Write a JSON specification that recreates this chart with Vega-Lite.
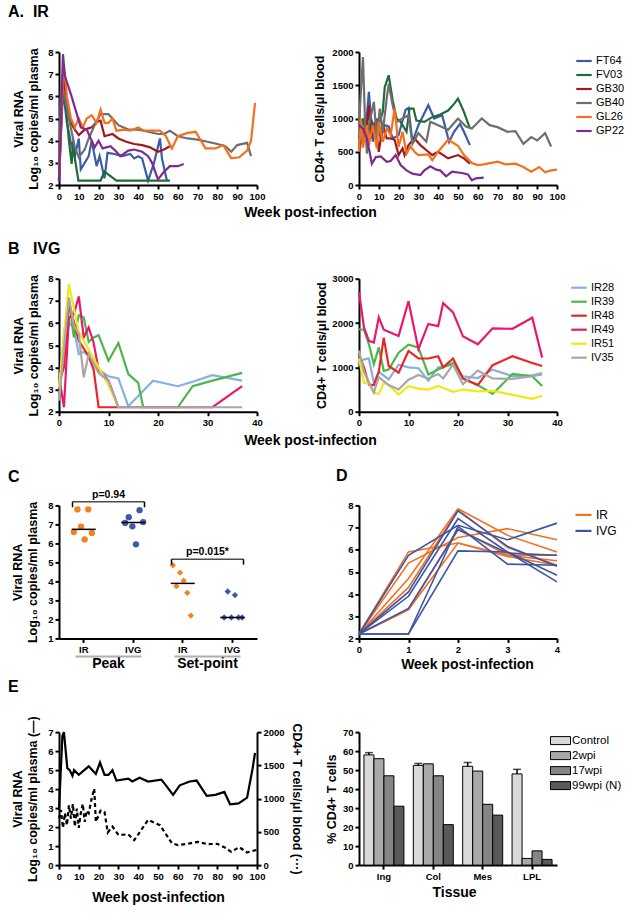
{
"$schema": "https://vega.github.io/schema/vega-lite/v6.json",
"autosize": {"type": "pad"},
"padding": {"left": 8, "top": 4, "right": 0, "bottom": 0},
"background": "white",
"config": {
  "font": "Liberation Sans",
  "view": {"stroke": null},
  "axis": {"grid": false, "domainColor": "#000", "domainWidth": 2, "tickColor": "#000", "tickWidth": 2, "tickSize": 4, "labelColor": "#000", "labelFontSize": 9.5, "labelFontWeight": "bold", "labelFont": "Liberation Sans", "labelPadding": 2, "labelOverlap": false, "labelFlush": false, "titleColor": "#000", "titleFont": "Liberation Sans", "titleFontWeight": "bold", "titleFontSize": 12.5, "titleLineHeight": 15},
  "legend": {"labelFont": "Liberation Sans", "labelFontSize": 11, "labelColor": "#000", "padding": 0, "rowPadding": 0, "labelOffset": 3},
  "title": {"font": "Liberation Sans", "fontSize": 16, "fontWeight": "bold", "color": "#000", "anchor": "start", "frame": "group", "baseline": "alphabetic"},
  "line": {"strokeWidth": 2.2}
},
"datasets": {
  "A_vl": [
    {"a":"FT64","w":0,"v":2.2},{"a":"FT64","w":2,"v":6.3},{"a":"FT64","w":4,"v":4.8},{"a":"FT64","w":6,"v":3.9},{"a":"FT64","w":8,"v":3.3},{"a":"FT64","w":10,"v":4.1},{"a":"FT64","w":11,"v":2.7},{"a":"FT64","w":15,"v":3.3},{"a":"FT64","w":16.5,"v":4.0},{"a":"FT64","w":19,"v":2.85},{"a":"FT64","w":20.5,"v":3.3},{"a":"FT64","w":21.5,"v":2.9},{"a":"FT64","w":23,"v":2.3},{"a":"FT64","w":24.5,"v":3.45},{"a":"FT64","w":28,"v":3.4},{"a":"FT64","w":32,"v":3.3},{"a":"FT64","w":36,"v":3.4},{"a":"FT64","w":38,"v":3.2},{"a":"FT64","w":40,"v":3.3},{"a":"FT64","w":42,"v":3.2},{"a":"FT64","w":45,"v":2.2},{"a":"FT64","w":48,"v":3.0},{"a":"FT64","w":51,"v":4.1},{"a":"FT64","w":52,"v":3.2},{"a":"FT64","w":54.5,"v":2.2},
    {"a":"FV03","w":0,"v":2.2},{"a":"FV03","w":1,"v":6.0},{"a":"FV03","w":2,"v":7.0},{"a":"FV03","w":4,"v":5.0},{"a":"FV03","w":5,"v":4.0},{"a":"FV03","w":6.4,"v":2.95},{"a":"FV03","w":7.2,"v":4.0},{"a":"FV03","w":8,"v":3.2},{"a":"FV03","w":9.8,"v":2.2},{"a":"FV03","w":21,"v":2.2},{"a":"FV03","w":23,"v":2.6},{"a":"FV03","w":26,"v":2.4},{"a":"FV03","w":29,"v":2.2},{"a":"FV03","w":56,"v":2.2},
    {"a":"GB30","w":0,"v":2.2},{"a":"GB30","w":2,"v":6.8},{"a":"GB30","w":4,"v":5.6},{"a":"GB30","w":6,"v":4.8},{"a":"GB30","w":8,"v":4.5},{"a":"GB30","w":10,"v":4.25},{"a":"GB30","w":13,"v":4.5},{"a":"GB30","w":16.5,"v":4.6},{"a":"GB30","w":19,"v":4.85},{"a":"GB30","w":21,"v":4.9},{"a":"GB30","w":23,"v":4.2},{"a":"GB30","w":27,"v":4.3},{"a":"GB30","w":30,"v":4.1},{"a":"GB30","w":34,"v":3.95},{"a":"GB30","w":38,"v":3.85},{"a":"GB30","w":42,"v":3.8},{"a":"GB30","w":46,"v":3.7},{"a":"GB30","w":50,"v":3.5},{"a":"GB30","w":53,"v":3.6},{"a":"GB30","w":56,"v":3.75},
    {"a":"GB40","w":0,"v":2.2},{"a":"GB40","w":1,"v":6.6},{"a":"GB40","w":3,"v":6.0},{"a":"GB40","w":5,"v":5.0},{"a":"GB40","w":8,"v":3.7},{"a":"GB40","w":10,"v":3.25},{"a":"GB40","w":13,"v":3.6},{"a":"GB40","w":15,"v":4.1},{"a":"GB40","w":18,"v":4.7},{"a":"GB40","w":21,"v":5.2},{"a":"GB40","w":25,"v":5.2},{"a":"GB40","w":28,"v":4.9},{"a":"GB40","w":30,"v":4.7},{"a":"GB40","w":35,"v":4.5},{"a":"GB40","w":40,"v":4.5},{"a":"GB40","w":45,"v":4.4},{"a":"GB40","w":50,"v":4.3},{"a":"GB40","w":53,"v":4.3},{"a":"GB40","w":56,"v":4.45},{"a":"GB40","w":60,"v":4.2},{"a":"GB40","w":65,"v":4.1},{"a":"GB40","w":70,"v":4.05},{"a":"GB40","w":75,"v":3.95},{"a":"GB40","w":80,"v":3.85},{"a":"GB40","w":84,"v":3.75},{"a":"GB40","w":87,"v":3.5},{"a":"GB40","w":90,"v":3.8},{"a":"GB40","w":95,"v":3.9},{"a":"GB40","w":97,"v":3.3},
    {"a":"GL26","w":0,"v":2.5},{"a":"GL26","w":1,"v":4.6},{"a":"GL26","w":2,"v":6.9},{"a":"GL26","w":3,"v":7.0},{"a":"GL26","w":4,"v":6.0},{"a":"GL26","w":6,"v":5.0},{"a":"GL26","w":8,"v":4.6},{"a":"GL26","w":10,"v":5.0},{"a":"GL26","w":12,"v":4.6},{"a":"GL26","w":14,"v":5.0},{"a":"GL26","w":16.5,"v":5.15},{"a":"GL26","w":19,"v":4.8},{"a":"GL26","w":21,"v":5.4},{"a":"GL26","w":23,"v":4.8},{"a":"GL26","w":25,"v":4.8},{"a":"GL26","w":27,"v":5.0},{"a":"GL26","w":29,"v":4.45},{"a":"GL26","w":33,"v":4.5},{"a":"GL26","w":36,"v":4.45},{"a":"GL26","w":40,"v":4.6},{"a":"GL26","w":43,"v":4.45},{"a":"GL26","w":47,"v":4.45},{"a":"GL26","w":51,"v":4.45},{"a":"GL26","w":54,"v":4.2},{"a":"GL26","w":57,"v":3.65},{"a":"GL26","w":60,"v":4.2},{"a":"GL26","w":65,"v":4.35},{"a":"GL26","w":69,"v":4.4},{"a":"GL26","w":74,"v":3.65},{"a":"GL26","w":79,"v":3.65},{"a":"GL26","w":83,"v":3.8},{"a":"GL26","w":87,"v":3.2},{"a":"GL26","w":91,"v":3.25},{"a":"GL26","w":95,"v":3.55},{"a":"GL26","w":97,"v":4.0},{"a":"GL26","w":99,"v":5.7},
    {"a":"GP22","w":0,"v":2.2},{"a":"GP22","w":1,"v":5.0},{"a":"GP22","w":2,"v":7.9},{"a":"GP22","w":3,"v":6.9},{"a":"GP22","w":6,"v":6.1},{"a":"GP22","w":9,"v":5.2},{"a":"GP22","w":11,"v":4.6},{"a":"GP22","w":14,"v":4.5},{"a":"GP22","w":16,"v":4.1},{"a":"GP22","w":18,"v":3.7},{"a":"GP22","w":20,"v":4.0},{"a":"GP22","w":22,"v":3.65},{"a":"GP22","w":26,"v":3.75},{"a":"GP22","w":29,"v":3.5},{"a":"GP22","w":31,"v":3.3},{"a":"GP22","w":35,"v":3.55},{"a":"GP22","w":38,"v":3.6},{"a":"GP22","w":42,"v":3.5},{"a":"GP22","w":45,"v":3.3},{"a":"GP22","w":47,"v":3.0},{"a":"GP22","w":50,"v":2.25},{"a":"GP22","w":53,"v":2.6},{"a":"GP22","w":56,"v":2.85},{"a":"GP22","w":60,"v":2.85},{"a":"GP22","w":63,"v":2.95}
  ],
  "A_cd4": [
    {"a":"FT64","w":0,"v":800},{"a":"FT64","w":3,"v":700},{"a":"FT64","w":5,"v":1400},{"a":"FT64","w":7,"v":650},{"a":"FT64","w":9,"v":1000},{"a":"FT64","w":11,"v":700},{"a":"FT64","w":13,"v":900},{"a":"FT64","w":15,"v":880},{"a":"FT64","w":17,"v":700},{"a":"FT64","w":20,"v":750},{"a":"FT64","w":23.5,"v":1130},{"a":"FT64","w":25,"v":1160},{"a":"FT64","w":27,"v":650},{"a":"FT64","w":30,"v":900},{"a":"FT64","w":35,"v":1200},{"a":"FT64","w":38,"v":1000},{"a":"FT64","w":42,"v":1050},{"a":"FT64","w":45.5,"v":650},{"a":"FT64","w":48,"v":800},{"a":"FT64","w":51,"v":920},{"a":"FT64","w":53,"v":800},{"a":"FT64","w":56,"v":600},
    {"a":"FV03","w":0,"v":700},{"a":"FV03","w":2,"v":1000},{"a":"FV03","w":4,"v":700},{"a":"FV03","w":6,"v":1000},{"a":"FV03","w":8,"v":800},{"a":"FV03","w":10,"v":900},{"a":"FV03","w":12,"v":1100},{"a":"FV03","w":13,"v":1470},{"a":"FV03","w":15,"v":1650},{"a":"FV03","w":17,"v":1270},{"a":"FV03","w":19,"v":1000},{"a":"FV03","w":21,"v":950},{"a":"FV03","w":24,"v":800},{"a":"FV03","w":25.5,"v":1150},{"a":"FV03","w":27.5,"v":1150},{"a":"FV03","w":29,"v":970},{"a":"FV03","w":33,"v":950},{"a":"FV03","w":37,"v":1020},{"a":"FV03","w":41,"v":1060},{"a":"FV03","w":45,"v":1120},{"a":"FV03","w":48,"v":1220},{"a":"FV03","w":50,"v":1300},{"a":"FV03","w":53,"v":1100},{"a":"FV03","w":56,"v":850},
    {"a":"GB30","w":0,"v":500},{"a":"GB30","w":2,"v":800},{"a":"GB30","w":4,"v":900},{"a":"GB30","w":5,"v":1200},{"a":"GB30","w":6,"v":700},{"a":"GB30","w":8,"v":950},{"a":"GB30","w":10,"v":500},{"a":"GB30","w":12,"v":900},{"a":"GB30","w":14,"v":700},{"a":"GB30","w":16,"v":700},{"a":"GB30","w":18,"v":680},{"a":"GB30","w":20,"v":450},{"a":"GB30","w":22,"v":550},{"a":"GB30","w":23,"v":450},{"a":"GB30","w":25,"v":600},{"a":"GB30","w":28,"v":700},{"a":"GB30","w":31,"v":600},{"a":"GB30","w":35,"v":500},{"a":"GB30","w":37,"v":450},{"a":"GB30","w":40,"v":500},{"a":"GB30","w":45,"v":400},{"a":"GB30","w":50,"v":450},{"a":"GB30","w":53,"v":400},{"a":"GB30","w":56,"v":320},
    {"a":"GB40","w":0,"v":920},{"a":"GB40","w":2,"v":1925},{"a":"GB40","w":3,"v":1000},{"a":"GB40","w":4,"v":470},{"a":"GB40","w":5,"v":900},{"a":"GB40","w":7.5,"v":1250},{"a":"GB40","w":9,"v":700},{"a":"GB40","w":10.5,"v":1150},{"a":"GB40","w":12,"v":800},{"a":"GB40","w":14,"v":1300},{"a":"GB40","w":15,"v":1520},{"a":"GB40","w":17,"v":1200},{"a":"GB40","w":19,"v":950},{"a":"GB40","w":22,"v":1000},{"a":"GB40","w":25,"v":1050},{"a":"GB40","w":27,"v":620},{"a":"GB40","w":30,"v":780},{"a":"GB40","w":34,"v":650},{"a":"GB40","w":36,"v":950},{"a":"GB40","w":40,"v":900},{"a":"GB40","w":45,"v":830},{"a":"GB40","w":50,"v":1000},{"a":"GB40","w":54,"v":880},{"a":"GB40","w":57,"v":850},{"a":"GB40","w":62,"v":1000},{"a":"GB40","w":66,"v":900},{"a":"GB40","w":70,"v":870},{"a":"GB40","w":75,"v":800},{"a":"GB40","w":79,"v":810},{"a":"GB40","w":83,"v":620},{"a":"GB40","w":87,"v":720},{"a":"GB40","w":90,"v":670},{"a":"GB40","w":94,"v":780},{"a":"GB40","w":97,"v":580},
    {"a":"GL26","w":0,"v":500},{"a":"GL26","w":1,"v":1000},{"a":"GL26","w":2,"v":560},{"a":"GL26","w":4,"v":900},{"a":"GL26","w":5,"v":600},{"a":"GL26","w":7,"v":900},{"a":"GL26","w":9,"v":550},{"a":"GL26","w":10,"v":950},{"a":"GL26","w":12,"v":650},{"a":"GL26","w":14,"v":850},{"a":"GL26","w":16,"v":750},{"a":"GL26","w":18,"v":1150},{"a":"GL26","w":20,"v":570},{"a":"GL26","w":22,"v":800},{"a":"GL26","w":24,"v":470},{"a":"GL26","w":26,"v":580},{"a":"GL26","w":28,"v":500},{"a":"GL26","w":30,"v":450},{"a":"GL26","w":35,"v":460},{"a":"GL26","w":37,"v":370},{"a":"GL26","w":40,"v":500},{"a":"GL26","w":45,"v":680},{"a":"GL26","w":50,"v":590},{"a":"GL26","w":53,"v":450},{"a":"GL26","w":57,"v":330},{"a":"GL26","w":60,"v":300},{"a":"GL26","w":63,"v":310},{"a":"GL26","w":70,"v":350},{"a":"GL26","w":74,"v":310},{"a":"GL26","w":79,"v":320},{"a":"GL26","w":83,"v":270},{"a":"GL26","w":87,"v":200},{"a":"GL26","w":91,"v":270},{"a":"GL26","w":94,"v":190},{"a":"GL26","w":97,"v":220},{"a":"GL26","w":100,"v":230},
    {"a":"GP22","w":0,"v":900},{"a":"GP22","w":2,"v":850},{"a":"GP22","w":4,"v":700},{"a":"GP22","w":6.5,"v":320},{"a":"GP22","w":8.5,"v":420},{"a":"GP22","w":11,"v":430},{"a":"GP22","w":14,"v":350},{"a":"GP22","w":16,"v":360},{"a":"GP22","w":18.5,"v":450},{"a":"GP22","w":21,"v":300},{"a":"GP22","w":24,"v":220},{"a":"GP22","w":27,"v":170},{"a":"GP22","w":31,"v":150},{"a":"GP22","w":33,"v":220},{"a":"GP22","w":36,"v":280},{"a":"GP22","w":39,"v":230},{"a":"GP22","w":41,"v":220},{"a":"GP22","w":44,"v":130},{"a":"GP22","w":47,"v":200},{"a":"GP22","w":52,"v":180},{"a":"GP22","w":55,"v":160},{"a":"GP22","w":57,"v":70},{"a":"GP22","w":59,"v":100},{"a":"GP22","w":63,"v":110}
  ],
  "B_vl": [
    {"a":"IR28","w":0,"v":3.3},{"a":"IR28","w":1,"v":4.5},{"a":"IR28","w":2,"v":6.0},{"a":"IR28","w":3,"v":5.8},{"a":"IR28","w":4,"v":4.6},{"a":"IR28","w":5,"v":4.7},{"a":"IR28","w":6,"v":4.5},{"a":"IR28","w":8,"v":3.9},{"a":"IR28","w":10,"v":3.6},{"a":"IR28","w":12,"v":3.5},{"a":"IR28","w":14,"v":2.25},{"a":"IR28","w":19,"v":3.4},{"a":"IR28","w":24,"v":3.15},{"a":"IR28","w":27,"v":3.35},{"a":"IR28","w":31,"v":3.65},{"a":"IR28","w":37,"v":3.4},
    {"a":"IR39","w":0,"v":2.6},{"a":"IR39","w":1,"v":5.5},{"a":"IR39","w":2,"v":7.0},{"a":"IR39","w":3,"v":5.35},{"a":"IR39","w":4,"v":6.35},{"a":"IR39","w":5,"v":6.25},{"a":"IR39","w":6,"v":5.15},{"a":"IR39","w":7,"v":5.35},{"a":"IR39","w":8,"v":5.45},{"a":"IR39","w":10,"v":4.3},{"a":"IR39","w":12,"v":5.1},{"a":"IR39","w":14,"v":3.7},{"a":"IR39","w":16,"v":3.3},{"a":"IR39","w":17,"v":2.2},{"a":"IR39","w":24,"v":2.2},{"a":"IR39","w":27,"v":3.15},{"a":"IR39","w":31,"v":3.4},{"a":"IR39","w":37,"v":3.75},
    {"a":"IR48","w":0,"v":3.3},{"a":"IR48","w":1,"v":4.0},{"a":"IR48","w":2,"v":6.9},{"a":"IR48","w":4,"v":5.2},{"a":"IR48","w":6,"v":4.5},{"a":"IR48","w":7,"v":3.9},{"a":"IR48","w":8,"v":2.2},{"a":"IR48","w":12,"v":2.2},
    {"a":"IR49","w":0,"v":3.6},{"a":"IR49","w":1,"v":2.2},{"a":"IR49","w":2,"v":6.25},{"a":"IR49","w":3,"v":6.4},{"a":"IR49","w":4,"v":7.2},{"a":"IR49","w":5,"v":5.35},{"a":"IR49","w":6,"v":5.8},{"a":"IR49","w":7,"v":5.1},{"a":"IR49","w":8,"v":3.9},{"a":"IR49","w":10,"v":3.4},{"a":"IR49","w":12,"v":2.2},{"a":"IR49","w":31,"v":2.2},{"a":"IR49","w":37,"v":3.15},
    {"a":"IR51","w":0,"v":3.1},{"a":"IR51","w":2,"v":7.75},{"a":"IR51","w":4,"v":5.6},{"a":"IR51","w":6,"v":4.8},{"a":"IR51","w":8,"v":4.0},{"a":"IR51","w":10,"v":3.2},{"a":"IR51","w":12,"v":2.2},
    {"a":"IV35","w":0,"v":2.5},{"a":"IV35","w":2,"v":7.15},{"a":"IV35","w":3,"v":5.9},{"a":"IV35","w":4,"v":5.5},{"a":"IV35","w":5,"v":3.55},{"a":"IV35","w":6,"v":4.6},{"a":"IV35","w":8,"v":3.75},{"a":"IV35","w":10,"v":3.4},{"a":"IV35","w":12,"v":2.2},{"a":"IV35","w":37,"v":2.2}
  ],
  "B_cd4": [
    {"a":"IR28","w":0,"v":1100},{"a":"IR28","w":1,"v":1180},{"a":"IR28","w":2,"v":1200},{"a":"IR28","w":3,"v":650},{"a":"IR28","w":4,"v":900},{"a":"IR28","w":6,"v":730},{"a":"IR28","w":8,"v":1060},{"a":"IR28","w":10,"v":1000},{"a":"IR28","w":12,"v":980},{"a":"IR28","w":14,"v":700},{"a":"IR28","w":16,"v":1000},{"a":"IR28","w":19,"v":1060},{"a":"IR28","w":21,"v":800},{"a":"IR28","w":24,"v":760},{"a":"IR28","w":27,"v":950},{"a":"IR28","w":31,"v":800},{"a":"IR28","w":35,"v":820},{"a":"IR28","w":37,"v":870},
    {"a":"IR39","w":0,"v":1860},{"a":"IR39","w":1,"v":1850},{"a":"IR39","w":2,"v":1520},{"a":"IR39","w":3,"v":1070},{"a":"IR39","w":4,"v":1450},{"a":"IR39","w":5,"v":920},{"a":"IR39","w":6,"v":950},{"a":"IR39","w":8,"v":1330},{"a":"IR39","w":10,"v":1510},{"a":"IR39","w":12,"v":1450},{"a":"IR39","w":14,"v":840},{"a":"IR39","w":16,"v":950},{"a":"IR39","w":19,"v":1100},{"a":"IR39","w":21,"v":750},{"a":"IR39","w":24,"v":600},{"a":"IR39","w":27,"v":400},{"a":"IR39","w":31,"v":850},{"a":"IR39","w":35,"v":800},{"a":"IR39","w":37,"v":580},
    {"a":"IR48","w":0,"v":1300},{"a":"IR48","w":1,"v":1000},{"a":"IR48","w":2,"v":610},{"a":"IR48","w":3,"v":600},{"a":"IR48","w":4,"v":900},{"a":"IR48","w":5,"v":1670},{"a":"IR48","w":6,"v":1030},{"a":"IR48","w":8,"v":880},{"a":"IR48","w":10,"v":1370},{"a":"IR48","w":12,"v":1200},{"a":"IR48","w":14,"v":1200},{"a":"IR48","w":16,"v":1250},{"a":"IR48","w":17,"v":1000},{"a":"IR48","w":19,"v":1200},{"a":"IR48","w":21,"v":750},{"a":"IR48","w":24,"v":600},{"a":"IR48","w":27,"v":1050},{"a":"IR48","w":31,"v":1250},{"a":"IR48","w":35,"v":1100},{"a":"IR48","w":37,"v":1030},
    {"a":"IR49","w":0,"v":2700},{"a":"IR49","w":1,"v":1900},{"a":"IR49","w":2,"v":1600},{"a":"IR49","w":3,"v":1560},{"a":"IR49","w":4,"v":2130},{"a":"IR49","w":5,"v":1850},{"a":"IR49","w":8,"v":1710},{"a":"IR49","w":10,"v":2490},{"a":"IR49","w":12,"v":1410},{"a":"IR49","w":14,"v":1980},{"a":"IR49","w":16,"v":1930},{"a":"IR49","w":17,"v":2450},{"a":"IR49","w":19,"v":2240},{"a":"IR49","w":21,"v":1700},{"a":"IR49","w":24,"v":1520},{"a":"IR49","w":27,"v":1880},{"a":"IR49","w":31,"v":1870},{"a":"IR49","w":35,"v":2120},{"a":"IR49","w":37,"v":1220},
    {"a":"IR51","w":0,"v":1200},{"a":"IR51","w":1,"v":650},{"a":"IR51","w":2,"v":650},{"a":"IR51","w":3,"v":430},{"a":"IR51","w":4,"v":400},{"a":"IR51","w":5,"v":650},{"a":"IR51","w":6,"v":600},{"a":"IR51","w":8,"v":385},{"a":"IR51","w":10,"v":575},{"a":"IR51","w":12,"v":520},{"a":"IR51","w":14,"v":500},{"a":"IR51","w":16,"v":580},{"a":"IR51","w":19,"v":450},{"a":"IR51","w":21,"v":500},{"a":"IR51","w":24,"v":460},{"a":"IR51","w":27,"v":470},{"a":"IR51","w":31,"v":380},{"a":"IR51","w":35,"v":290},{"a":"IR51","w":37,"v":360},
    {"a":"IV35","w":0,"v":1380},{"a":"IV35","w":1,"v":900},{"a":"IV35","w":3,"v":430},{"a":"IV35","w":4,"v":780},{"a":"IV35","w":6,"v":600},{"a":"IV35","w":8,"v":500},{"a":"IV35","w":10,"v":720},{"a":"IV35","w":12,"v":830},{"a":"IV35","w":14,"v":750},{"a":"IV35","w":16,"v":850},{"a":"IV35","w":17,"v":750},{"a":"IV35","w":19,"v":1060},{"a":"IV35","w":21,"v":620},{"a":"IV35","w":24,"v":930},{"a":"IV35","w":27,"v":750},{"a":"IV35","w":31,"v":740},{"a":"IV35","w":35,"v":800},{"a":"IV35","w":37,"v":840}
  ],
  "C_pts": [
    {"phase":"Peak","route":"IR","cat":"Peak IR","animal":"FT64","v":6.6},{"phase":"Peak","route":"IR","cat":"Peak IR","animal":"FV03","v":7.79},{"phase":"Peak","route":"IR","cat":"Peak IR","animal":"GB30","v":6.88},{"phase":"Peak","route":"IR","cat":"Peak IR","animal":"GB40","v":6.21},{"phase":"Peak","route":"IR","cat":"Peak IR","animal":"GL26","v":7.79},{"phase":"Peak","route":"IR","cat":"Peak IR","animal":"GP22","v":6.55},
    {"phase":"Peak","route":"IVG","cat":"Peak IVG","animal":"IR28","v":7.08},{"phase":"Peak","route":"IVG","cat":"Peak IVG","animal":"IR39","v":7.38},{"phase":"Peak","route":"IVG","cat":"Peak IVG","animal":"IR48","v":6.9},{"phase":"Peak","route":"IVG","cat":"Peak IVG","animal":"IR49","v":5.95},{"phase":"Peak","route":"IVG","cat":"Peak IVG","animal":"IR51","v":7.75},{"phase":"Peak","route":"IVG","cat":"Peak IVG","animal":"IV35","v":7.12},
    {"phase":"Set-point","route":"IR","cat":"Set IR","animal":"FT64","v":4.85},{"phase":"Set-point","route":"IR","cat":"Set IR","animal":"FV03","v":3.75},{"phase":"Set-point","route":"IR","cat":"Set IR","animal":"GB30","v":4.46},{"phase":"Set-point","route":"IR","cat":"Set IR","animal":"GB40","v":4.04},{"phase":"Set-point","route":"IR","cat":"Set IR","animal":"GL26","v":3.4},{"phase":"Set-point","route":"IR","cat":"Set IR","animal":"GP22","v":2.2},
    {"phase":"Set-point","route":"IVG","cat":"Set IVG","animal":"IR28","v":2.1},{"phase":"Set-point","route":"IVG","cat":"Set IVG","animal":"IR39","v":3.47},{"phase":"Set-point","route":"IVG","cat":"Set IVG","animal":"IR48","v":2.1},{"phase":"Set-point","route":"IVG","cat":"Set IVG","animal":"IR49","v":3.28},{"phase":"Set-point","route":"IVG","cat":"Set IVG","animal":"IR51","v":2.1},{"phase":"Set-point","route":"IVG","cat":"Set IVG","animal":"IV35","v":2.1}
  ],
  "C_ann": [
    {"phase":"Peak","label":"p=0.94","top":8.19,"foot":7.9,"ty":8.54,"under":0.05},
    {"phase":"Set-point","label":"p=0.015*","top":5.17,"foot":4.88,"ty":5.56,"under":0.05}
  ],
  "D": [
    {"id":"FT64","route":"IR","w":0,"v":2.2},{"id":"FT64","route":"IR","w":1,"v":5.9},{"id":"FT64","route":"IR","w":2,"v":6.3},{"id":"FT64","route":"IR","w":3,"v":5.75},{"id":"FT64","route":"IR","w":4,"v":5.5},
    {"id":"FV03","route":"IR","w":0,"v":2.2},{"id":"FV03","route":"IR","w":1,"v":5.4},{"id":"FV03","route":"IR","w":2,"v":6.55},{"id":"FV03","route":"IR","w":3,"v":6.95},{"id":"FV03","route":"IR","w":4,"v":6.45},
    {"id":"GB30","route":"IR","w":0,"v":2.2},{"id":"GB30","route":"IR","w":1,"v":4.7},{"id":"GB30","route":"IR","w":2,"v":7.85},{"id":"GB30","route":"IR","w":3,"v":6.65},{"id":"GB30","route":"IR","w":4,"v":5.9},
    {"id":"GB40","route":"IR","w":0,"v":2.2},{"id":"GB40","route":"IR","w":1,"v":4.3},{"id":"GB40","route":"IR","w":2,"v":7.8},{"id":"GB40","route":"IR","w":3,"v":6.1},{"id":"GB40","route":"IR","w":4,"v":5.3},
    {"id":"GL26","route":"IR","w":0,"v":2.2},{"id":"GL26","route":"IR","w":1,"v":3.3},{"id":"GL26","route":"IR","w":2,"v":6.95},{"id":"GL26","route":"IR","w":3,"v":5.75},{"id":"GL26","route":"IR","w":4,"v":5.75},
    {"id":"GP22","route":"IR","w":0,"v":2.2},{"id":"GP22","route":"IR","w":1,"v":3.3},{"id":"GP22","route":"IR","w":2,"v":6.3},{"id":"GP22","route":"IR","w":3,"v":5.7},{"id":"GP22","route":"IR","w":4,"v":5.3},
    {"id":"IR28","route":"IVG","w":0,"v":2.2},{"id":"IR28","route":"IVG","w":1,"v":5.75},{"id":"IR28","route":"IVG","w":2,"v":7.1},{"id":"IR28","route":"IVG","w":3,"v":6.45},{"id":"IR28","route":"IVG","w":4,"v":7.2},
    {"id":"IR39","route":"IVG","w":0,"v":2.2},{"id":"IR39","route":"IVG","w":1,"v":4.1},{"id":"IR39","route":"IVG","w":2,"v":7.75},{"id":"IR39","route":"IVG","w":3,"v":6.15},{"id":"IR39","route":"IVG","w":4,"v":5.25},
    {"id":"IR48","route":"IVG","w":0,"v":2.2},{"id":"IR48","route":"IVG","w":1,"v":3.9},{"id":"IR48","route":"IVG","w":2,"v":7.4},{"id":"IR48","route":"IVG","w":3,"v":5.9},{"id":"IR48","route":"IVG","w":4,"v":4.85},
    {"id":"IR49","route":"IVG","w":0,"v":2.2},{"id":"IR49","route":"IVG","w":1,"v":3.35},{"id":"IR49","route":"IVG","w":2,"v":6.9},{"id":"IR49","route":"IVG","w":3,"v":5.85},{"id":"IR49","route":"IVG","w":4,"v":5.75},
    {"id":"IR51","route":"IVG","w":0,"v":2.2},{"id":"IR51","route":"IVG","w":1,"v":2.2},{"id":"IR51","route":"IVG","w":2,"v":7.05},{"id":"IR51","route":"IVG","w":3,"v":5.35},{"id":"IR51","route":"IVG","w":4,"v":5.3},
    {"id":"IV35","route":"IVG","w":0,"v":2.2},{"id":"IV35","route":"IVG","w":1,"v":2.2},{"id":"IV35","route":"IVG","w":2,"v":5.95},{"id":"IV35","route":"IVG","w":3,"v":5.9},{"id":"IV35","route":"IVG","w":4,"v":4.55}
  ],
  "E_vl": [
    {"w":0,"v":2.9},{"w":1.7,"v":6.8},{"w":2.5,"v":7.0},{"w":4.2,"v":5.1},{"w":5.4,"v":5.0},{"w":6.8,"v":4.7},{"w":7.6,"v":5.0},{"w":10,"v":4.75},{"w":15,"v":5.2},{"w":18.6,"v":4.8},{"w":20.7,"v":5.4},{"w":23,"v":4.75},{"w":25,"v":4.75},{"w":27,"v":5.0},{"w":29,"v":4.45},{"w":35,"v":4.55},{"w":37,"v":4.4},{"w":40.7,"v":4.6},{"w":45,"v":4.4},{"w":51.7,"v":4.5},{"w":54,"v":4.2},{"w":57.6,"v":3.7},{"w":61,"v":4.2},{"w":66,"v":4.4},{"w":69.5,"v":4.45},{"w":74.6,"v":3.65},{"w":79,"v":3.7},{"w":83.5,"v":3.85},{"w":86.4,"v":3.2},{"w":90.7,"v":3.25},{"w":95,"v":3.55},{"w":97.8,"v":5.1},{"w":99,"v":5.9}
  ],
  "E_cd4": [
    {"w":0,"v":700},{"w":1,"v":830},{"w":2,"v":560},{"w":3,"v":780},{"w":4,"v":600},{"w":5,"v":900},{"w":6,"v":700},{"w":7,"v":920},{"w":8,"v":580},{"w":9,"v":850},{"w":10,"v":560},{"w":11,"v":780},{"w":12,"v":920},{"w":13,"v":650},{"w":14,"v":820},{"w":15,"v":780},{"w":16.5,"v":1000},{"w":17.8,"v":1150},{"w":18.6,"v":650},{"w":21,"v":820},{"w":23,"v":800},{"w":24.6,"v":490},{"w":27,"v":580},{"w":30,"v":455},{"w":35,"v":460},{"w":38,"v":375},{"w":45,"v":680},{"w":51,"v":600},{"w":57,"v":330},{"w":60,"v":300},{"w":65,"v":320},{"w":70,"v":350},{"w":75,"v":315},{"w":80,"v":320},{"w":84,"v":260},{"w":87,"v":200},{"w":91,"v":270},{"w":95,"v":190},{"w":100,"v":230}
  ],
  "E_bar": [
    {"t":"Ing","tp":"Control","v":58},{"t":"Ing","tp":"2wpi","v":56},{"t":"Ing","tp":"17wpi","v":47},{"t":"Ing","tp":"99wpi (N)","v":31},
    {"t":"Col","tp":"Control","v":52.5},{"t":"Col","tp":"2wpi","v":53.3},{"t":"Col","tp":"17wpi","v":47},{"t":"Col","tp":"99wpi (N)","v":21.3},
    {"t":"Mes","tp":"Control","v":52},{"t":"Mes","tp":"2wpi","v":49.5},{"t":"Mes","tp":"17wpi","v":32},{"t":"Mes","tp":"99wpi (N)","v":26.3},
    {"t":"LPL","tp":"Control","v":48},{"t":"LPL","tp":"2wpi","v":3.5},{"t":"LPL","tp":"17wpi","v":7.5},{"t":"LPL","tp":"99wpi (N)","v":3}
  ],
  "E_err": [
    {"t":"Ing","tp":"Control","v":58,"hi":59.2},{"t":"Col","tp":"Control","v":52.5,"hi":53.5},{"t":"Mes","tp":"Control","v":52,"hi":54},{"t":"LPL","tp":"Control","v":48,"hi":50.4}
  ]
},
"bounds": "flush",
"columns": 2,
"spacing": {"row": 93.7, "column": 102},
"resolve": {"scale": {"color": "independent", "shape": "independent", "xOffset": "independent"}},
"concat": [
  {
    "width": 198, "height": 133,
    "title": {"text": "A.\u00a0\u00a0IR", "dx": -51, "offset": 27},
    "data": {"name": "A_vl"},
    "mark": {"type": "line"},
    "encoding": {
      "x": {"field": "w", "type": "quantitative", "scale": {"domain": [0, 100], "nice": false}, "axis": {"values": [0,10,20,30,40,50,60,70,80,90,100], "title": "Week post-infection", "titleFontSize": 14, "titleX": 251, "titleY": 27, "titleBaseline": "middle", "titleAlign": "center"}},
      "y": {"field": "v", "type": "quantitative", "scale": {"domain": [2, 8], "nice": false, "zero": false}, "axis": {"values": [2,3,4,5,6,7,8], "title": ["Viral RNA", "Log₁₀ copies/ml plasma"], "titleX": -41, "titleY": 66.5, "titleAngle": -90, "titleAlign": "center", "titleBaseline": "middle"}},
      "color": {"field": "a", "type": "nominal", "scale": {"domain": ["FT64","FV03","GB30","GB40","GL26","GP22"], "range": ["#3C5BA9","#1D6B36","#A1191E","#6E6E6E","#F4701F","#7E2B8F"]}, "legend": null},
      "order": {"field": "w"}
    }
  },
  {
    "width": 198, "height": 133,
    "data": {"name": "A_cd4"},
    "mark": {"type": "line"},
    "encoding": {
      "x": {"field": "w", "type": "quantitative", "scale": {"domain": [0, 100], "nice": false}, "axis": {"values": [0,10,20,30,40,50,60,70,80,90,100], "title": null}},
      "y": {"field": "v", "type": "quantitative", "scale": {"domain": [0, 2000], "nice": false}, "axis": {"values": [0,500,1000,1500,2000], "format": "d", "title": "CD4+ T cells/μl blood", "titleX": -40, "titleY": 66.5, "titleAngle": -90, "titleAlign": "center", "titleBaseline": "middle"}},
      "color": {"field": "a", "type": "nominal", "scale": {"domain": ["FT64","FV03","GB30","GB40","GL26","GP22"], "range": ["#3C5BA9","#1D6B36","#A1191E","#6E6E6E","#F4701F","#7E2B8F"]}, "legend": {"title": null, "orient": "right", "offset": 13, "symbolType": "stroke", "symbolSize": 240, "symbolStrokeWidth": 2.5}},
      "order": {"field": "w"}
    }
  },
  {
    "width": 198, "height": 133,
    "title": {"text": "B\u00a0\u00a0\u00a0IVG", "dx": -51, "offset": 17},
    "data": {"name": "B_vl"},
    "mark": {"type": "line"},
    "encoding": {
      "x": {"field": "w", "type": "quantitative", "scale": {"domain": [0, 40], "nice": false}, "axis": {"values": [0,10,20,30,40], "title": "Week post-infection", "titleFontSize": 14, "titleX": 251, "titleY": 29, "titleBaseline": "middle", "titleAlign": "center"}},
      "y": {"field": "v", "type": "quantitative", "scale": {"domain": [2, 8], "nice": false, "zero": false}, "axis": {"values": [2,3,4,5,6,7,8], "title": ["Viral RNA", "Log₁₀ copies/ml plasma"], "titleX": -41, "titleY": 66.5, "titleAngle": -90, "titleAlign": "center", "titleBaseline": "middle"}},
      "color": {"field": "a", "type": "nominal", "scale": {"domain": ["IR28","IR39","IR48","IR49","IR51","IV35"], "range": ["#84B1E3","#4CB748","#EC2426","#E8196D","#F2E814","#A7A7A7"]}, "legend": null},
      "order": {"field": "w"}
    }
  },
  {
    "width": 198, "height": 133,
    "data": {"name": "B_cd4"},
    "mark": {"type": "line"},
    "encoding": {
      "x": {"field": "w", "type": "quantitative", "scale": {"domain": [0, 40], "nice": false}, "axis": {"values": [0,10,20,30,40], "title": null}},
      "y": {"field": "v", "type": "quantitative", "scale": {"domain": [0, 3000], "nice": false}, "axis": {"values": [0,1000,2000,3000], "format": "d", "title": "CD4+ T cells/μl blood", "titleX": -38, "titleY": 66.5, "titleAngle": -90, "titleAlign": "center", "titleBaseline": "middle"}},
      "color": {"field": "a", "type": "nominal", "scale": {"domain": ["IR28","IR39","IR48","IR49","IR51","IV35"], "range": ["#84B1E3","#4CB748","#EC2426","#E8196D","#F2E814","#A7A7A7"]}, "legend": {"title": null, "orient": "right", "offset": 13, "symbolType": "stroke", "symbolSize": 240, "symbolStrokeWidth": 2.5}},
      "order": {"field": "w"}
    }
  },
  {
    "width": 198, "height": 133,
    "title": {"text": "C", "dx": -51, "offset": 5},
    "resolve": {"scale": {"x": "independent"}, "axis": {"x": "independent"}},
    "layer": [
      {
        "data": {"name": "C_pts"},
        "layer": [
          {
            "mark": {"type": "point", "filled": true, "size": 40, "opacity": 1},
            "encoding": {
              "x": {"field": "cat", "type": "nominal", "scale": {"type": "band", "domain": ["Peak IR","Peak IVG","Set IR","Set IVG"], "paddingInner": 0.6, "paddingOuter": 0.3}, "axis": {"title": null, "labelExpr": "split(datum.value, ' ')[1]", "labelAngle": 0}},
              "xOffset": {"field": "animal", "type": "nominal", "scale": {"domain": ["FT64","IR28","FV03","IR39","GB30","IR48","GB40","IR49","GL26","IR51","GP22","IV35"], "paddingInner": 0, "paddingOuter": 0}},
              "y": {"field": "v", "type": "quantitative", "scale": {"domain": [1, 8], "nice": false, "zero": false}, "axis": {"values": [1,2,3,4,5,6,7,8], "title": ["Viral RNA", "Log₁₀ copies/ml plasma"], "titleX": -42, "titleY": 66.5, "titleAngle": -90, "titleAlign": "center", "titleBaseline": "middle"}},
              "color": {"field": "route", "type": "nominal", "scale": {"domain": ["IR","IVG"], "range": ["#F6821F","#3D59A8"]}, "legend": null},
              "shape": {"field": "phase", "type": "nominal", "scale": {"domain": ["Peak","Set-point"], "range": ["circle","diamond"]}, "legend": null}
            }
          },
          {
            "mark": {"type": "tick", "orient": "horizontal", "size": 24, "thickness": 1.5, "color": "#000"},
            "encoding": {
              "x": {"field": "cat", "type": "nominal", "axis": {"title": null, "labelExpr": "split(datum.value, ' ')[1]", "labelAngle": 0}},
              "y": {"field": "v", "type": "quantitative", "aggregate": "median", "axis": {"values": [1,2,3,4,5,6,7,8], "title": ["Viral RNA", "Log₁₀ copies/ml plasma"], "titleX": -42, "titleY": 66.5, "titleAngle": -90, "titleAlign": "center", "titleBaseline": "middle"}}
            }
          }
        ]
      },
      {
        "data": {"name": "C_ann"},
        "layer": [
          {
            "mark": {"type": "tick", "orient": "horizontal", "size": 72, "thickness": 1.5, "color": "#000", "clip": false},
            "encoding": {
              "x": {"field": "phase", "type": "nominal", "scale": {"type": "band", "domain": ["Peak","Set-point"], "paddingInner": 0, "paddingOuter": 0}, "axis": {"orient": "bottom", "offset": 16, "domain": false, "ticks": false, "labelFontSize": 14, "labelPadding": 2, "labelAngle": 0, "title": null}},
              "y": {"field": "top", "type": "quantitative", "axis": {"values": [1,2,3,4,5,6,7,8], "title": ["Viral RNA", "Log₁₀ copies/ml plasma"], "titleX": -42, "titleY": 66.5, "titleAngle": -90, "titleAlign": "center", "titleBaseline": "middle"}}
            }
          },
          {
            "mark": {"type": "rule", "strokeWidth": 1.5, "color": "#000", "xOffset": -36, "clip": false},
            "encoding": {
              "x": {"field": "phase", "type": "nominal", "axis": {"orient": "bottom", "offset": 16, "domain": false, "ticks": false, "labelFontSize": 14, "labelPadding": 2, "labelAngle": 0, "title": null}},
              "y": {"field": "top", "type": "quantitative", "axis": {"values": [1,2,3,4,5,6,7,8], "title": ["Viral RNA", "Log₁₀ copies/ml plasma"], "titleX": -42, "titleY": 66.5, "titleAngle": -90, "titleAlign": "center", "titleBaseline": "middle"}},
              "y2": {"field": "foot"}
            }
          },
          {
            "mark": {"type": "rule", "strokeWidth": 1.5, "color": "#000", "xOffset": 36, "clip": false},
            "encoding": {
              "x": {"field": "phase", "type": "nominal", "axis": {"orient": "bottom", "offset": 16, "domain": false, "ticks": false, "labelFontSize": 14, "labelPadding": 2, "labelAngle": 0, "title": null}},
              "y": {"field": "top", "type": "quantitative", "axis": {"values": [1,2,3,4,5,6,7,8], "title": ["Viral RNA", "Log₁₀ copies/ml plasma"], "titleX": -42, "titleY": 66.5, "titleAngle": -90, "titleAlign": "center", "titleBaseline": "middle"}},
              "y2": {"field": "foot"}
            }
          },
          {
            "mark": {"type": "text", "fontSize": 10.5, "fontWeight": "bold", "color": "#000", "baseline": "middle", "clip": false},
            "encoding": {
              "x": {"field": "phase", "type": "nominal", "axis": {"orient": "bottom", "offset": 16, "domain": false, "ticks": false, "labelFontSize": 14, "labelPadding": 2, "labelAngle": 0, "title": null}},
              "y": {"field": "ty", "type": "quantitative", "axis": {"values": [1,2,3,4,5,6,7,8], "title": ["Viral RNA", "Log₁₀ copies/ml plasma"], "titleX": -42, "titleY": 66.5, "titleAngle": -90, "titleAlign": "center", "titleBaseline": "middle"}},
              "text": {"field": "label"}
            }
          },
          {
            "mark": {"type": "tick", "orient": "horizontal", "size": 66, "thickness": 2, "color": "#8C8C8C", "clip": false},
            "encoding": {
              "x": {"field": "phase", "type": "nominal", "axis": {"orient": "bottom", "offset": 16, "domain": false, "ticks": false, "labelFontSize": 14, "labelPadding": 2, "labelAngle": 0, "title": null}},
              "y": {"field": "under", "type": "quantitative", "axis": {"values": [1,2,3,4,5,6,7,8], "title": ["Viral RNA", "Log₁₀ copies/ml plasma"], "titleX": -42, "titleY": 66.5, "titleAngle": -90, "titleAlign": "center", "titleBaseline": "middle"}}
            }
          }
        ]
      }
    ]
  },
  {
    "width": 198, "height": 133,
    "title": {"text": "D", "dx": -23, "offset": 16},
    "data": {"name": "D"},
    "mark": {"type": "line", "strokeWidth": 1.6},
    "encoding": {
      "x": {"field": "w", "type": "quantitative", "scale": {"domain": [0, 4], "nice": false}, "axis": {"values": [0,1,2,3,4], "title": "Week post-infection", "titleFontSize": 14, "titleX": 108, "titleY": 26, "titleBaseline": "middle", "titleAlign": "center"}},
      "y": {"field": "v", "type": "quantitative", "scale": {"domain": [2, 8], "nice": false, "zero": false}, "axis": {"values": [2,3,4,5,6,7,8], "title": null}},
      "color": {"field": "route", "type": "nominal", "scale": {"domain": ["IR","IVG"], "range": ["#F37021","#3C55A5"]}, "legend": {"title": null, "orient": "right", "offset": 13, "symbolType": "stroke", "symbolSize": 256, "symbolStrokeWidth": 2, "labelFontSize": 12}},
      "detail": {"field": "id"},
      "order": {"field": "w"}
    }
  },
  {
    "width": 198, "height": 133,
    "title": {"text": "E", "dx": -51, "offset": 21},
    "resolve": {"scale": {"y": "independent"}},
    "layer": [
      {
        "data": {"name": "E_vl"},
        "mark": {"type": "line", "color": "#000", "strokeWidth": 2.2},
        "encoding": {
          "x": {"field": "w", "type": "quantitative", "scale": {"domain": [0, 100], "nice": false}, "axis": {"values": [0,10,20,30,40,50,60,70,80,90,100], "title": "Week post-infection", "titleFontSize": 14, "titleX": 99, "titleY": 32, "titleBaseline": "middle", "titleAlign": "center"}},
          "y": {"field": "v", "type": "quantitative", "scale": {"domain": [0, 7], "nice": false}, "axis": {"orient": "left", "values": [0,1,2,3,4,5,6,7], "title": ["Viral RNA", "Log₁₀ copies/ml plasma (—)"], "titleX": -42, "titleY": 66.5, "titleAngle": -90, "titleAlign": "center", "titleBaseline": "middle"}},
          "order": {"field": "w"}
        }
      },
      {
        "data": {"name": "E_cd4"},
        "mark": {"type": "line", "color": "#000", "strokeWidth": 2.2, "strokeDash": [4, 3]},
        "encoding": {
          "x": {"field": "w", "type": "quantitative", "scale": {"domain": [0, 100], "nice": false}, "axis": {"values": [0,10,20,30,40,50,60,70,80,90,100], "title": "Week post-infection", "titleFontSize": 14, "titleX": 99, "titleY": 32, "titleBaseline": "middle", "titleAlign": "center"}},
          "y": {"field": "v", "type": "quantitative", "scale": {"domain": [0, 2000], "nice": false}, "axis": {"orient": "right", "values": [0,500,1000,1500,2000], "format": "d", "title": "CD4+ T cells/μl blood (···)", "titleX": 39, "titleY": 66.5, "titleAngle": 90, "titleAlign": "center", "titleBaseline": "middle"}},
          "order": {"field": "w"}
        }
      }
    ]
  },
  {
    "width": 198, "height": 133,
    "layer": [
      {
        "data": {"name": "E_bar"},
        "mark": {"type": "bar", "stroke": "#000", "strokeWidth": 1},
        "encoding": {
          "x": {"field": "t", "type": "nominal", "scale": {"domain": ["Ing","Col","Mes","LPL"], "paddingInner": 0.19, "paddingOuter": 0.1}, "axis": {"labelAngle": 0, "title": "Tissue", "titleFontSize": 14, "titleX": 95, "titleY": 27, "titleBaseline": "middle", "titleAlign": "center"}},
          "xOffset": {"field": "tp", "type": "nominal", "scale": {"domain": ["Control","2wpi","17wpi","99wpi (N)"], "paddingInner": 0, "paddingOuter": 0}},
          "y": {"field": "v", "type": "quantitative", "scale": {"domain": [0, 70], "nice": false}, "axis": {"values": [0,10,20,30,40,50,60,70], "title": "% CD4+ T cells", "titleX": -28, "titleY": 66.5, "titleAngle": -90, "titleAlign": "center", "titleBaseline": "middle"}},
          "color": {"field": "tp", "type": "nominal", "scale": {"domain": ["Control","2wpi","17wpi","99wpi (N)"], "range": ["#D9D9D9","#A9A9A9","#858585","#595959"]}, "legend": {"title": null, "orient": "right", "offset": -5, "symbolType": "M-1.25,-0.5H1.25V0.5H-1.25Z", "symbolSize": 256, "symbolStrokeColor": "#000", "symbolStrokeWidth": 1, "labelFontSize": 11.5}}
        }
      },
      {
        "data": {"name": "E_err"},
        "mark": {"type": "rule", "color": "#000", "strokeWidth": 1.5},
        "encoding": {
          "x": {"field": "t", "type": "nominal", "axis": {"labelAngle": 0, "title": "Tissue", "titleFontSize": 14, "titleX": 95, "titleY": 27, "titleBaseline": "middle", "titleAlign": "center"}},
          "xOffset": {"field": "tp", "type": "nominal"},
          "y": {"field": "v", "type": "quantitative", "axis": {"values": [0,10,20,30,40,50,60,70], "title": "% CD4+ T cells", "titleX": -28, "titleY": 66.5, "titleAngle": -90, "titleAlign": "center", "titleBaseline": "middle"}},
          "y2": {"field": "hi"}
        }
      },
      {
        "data": {"name": "E_err"},
        "mark": {"type": "tick", "orient": "horizontal", "color": "#000", "size": 8, "thickness": 1.5},
        "encoding": {
          "x": {"field": "t", "type": "nominal", "axis": {"labelAngle": 0, "title": "Tissue", "titleFontSize": 14, "titleX": 95, "titleY": 27, "titleBaseline": "middle", "titleAlign": "center"}},
          "xOffset": {"field": "tp", "type": "nominal"},
          "y": {"field": "hi", "type": "quantitative", "axis": {"values": [0,10,20,30,40,50,60,70], "title": "% CD4+ T cells", "titleX": -28, "titleY": 66.5, "titleAngle": -90, "titleAlign": "center", "titleBaseline": "middle"}}
        }
      }
    ]
  }
]
}
